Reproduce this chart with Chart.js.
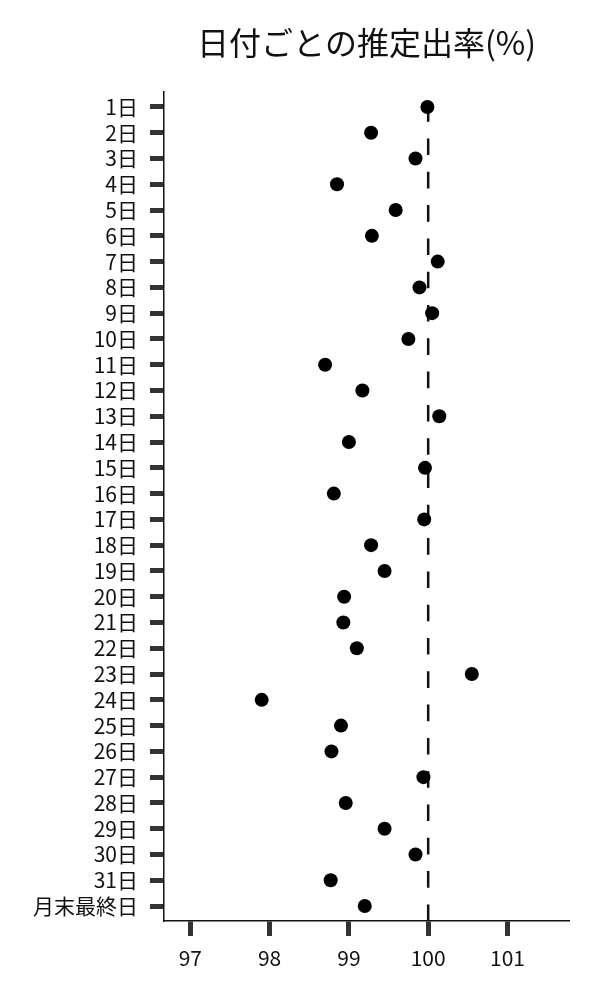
<!DOCTYPE html>
<html>
<head>
<meta charset="utf-8">
<script src="https://cdn.jsdelivr.net/npm/chart.js@4.4.1/dist/chart.umd.min.js"></script>
<style>
  html, body { margin: 0; padding: 0; background: #fff; }
  #wrap { width: 600px; height: 1000px; }
</style>
</head>
<body>
<div id="wrap"><canvas id="chart"></canvas></div>
<script>
const dayLabels = [
    '1日', '2日', '3日', '4日', '5日', '6日', '7日', '8日', '9日', '10日',
    '11日', '12日', '13日', '14日', '15日', '16日', '17日', '18日', '19日', '20日',
    '21日', '22日', '23日', '24日', '25日', '26日', '27日', '28日', '29日', '30日',
    '31日', '月末最終日',
];
const rates = [
    99.99, 99.28, 99.84, 98.85, 99.59, 99.29, 100.12, 99.89, 100.05, 99.75,
    98.70, 99.17, 100.14, 99.00, 99.96, 98.81, 99.95, 99.28, 99.45, 98.94,
    98.93, 99.10, 100.55, 97.90, 98.90, 98.78, 99.94, 98.96, 99.45, 99.84,
    98.77, 99.20,
];
const xTicks = [97, 98, 99, 100, 101];
const refValue = 100;

const FONT = '"Noto Sans CJK JP", "Noto Sans", sans-serif';
const Y_MIN = -0.58, Y_MAX = dayLabels.length - 1 + 0.58;

const points = rates.map((v, i) => ({ x: v, y: i }));

new Chart(document.getElementById('chart'), {
    type: 'scatter',
    data: {
        datasets: [
            {
                label: '推定出率',
                data: points,
                backgroundColor: '#000',
                borderWidth: 0,
                pointRadius: 7,
                order: 0,
            },
            {
                // reference line at 100%, drawn bottom -> top so the dash starts on the axis
                label: '100%',
                data: [{ x: refValue, y: Y_MAX }, { x: refValue, y: Y_MIN }],
                showLine: true,
                borderColor: '#111',
                borderWidth: 2.5,
                borderDash: [16.6, 16.7],
                pointRadius: 0,
                order: 1,
            },
        ],
    },
    options: {
        responsive: true,
        maintainAspectRatio: false,
        animation: false,
        layout: { padding: { left: 0, right: 31, top: 0, bottom: 0 } },
        plugins: {
            legend: { display: false },
            tooltip: { enabled: false },
            title: {
                display: true,
                text: '日付ごとの推定出率(%)',
                fullSize: false,
                color: '#111',
                font: { family: FONT, size: 32, weight: 'normal', lineHeight: 1.2 },
                padding: { top: 24, bottom: 29.6 },
            },
        },
        scales: {
            x: {
                type: 'linear',
                min: 96.668,
                max: 101.776,
                afterBuildTicks: (s) => { s.ticks = xTicks.map(v => ({ value: v })); },
                afterFit: (s) => { s.height = 79; },
                grid: { drawOnChartArea: false, tickLength: 15, tickWidth: 5, tickColor: '#333' },
                border: { display: true, color: '#111', width: 1.5 },
                ticks: { color: '#111', padding: 9, font: { family: FONT, size: 21 } },
            },
            y: {
                type: 'linear',
                reverse: true,
                min: Y_MIN,
                max: Y_MAX,
                afterBuildTicks: (s) => { s.ticks = dayLabels.map((_, i) => ({ value: i })); },
                afterFit: (s) => { s.width = 164; },
                grid: { drawOnChartArea: false, tickLength: 14, tickWidth: 5, tickColor: '#333' },
                border: { display: true, color: '#111', width: 1.5 },
                ticks: {
                    color: '#111',
                    padding: 12,
                    autoSkip: false,
                    font: { family: FONT, size: 21 },
                    callback: (v) => dayLabels[v],
                },
            },
        },
    },
});
</script>
</body>
</html>
